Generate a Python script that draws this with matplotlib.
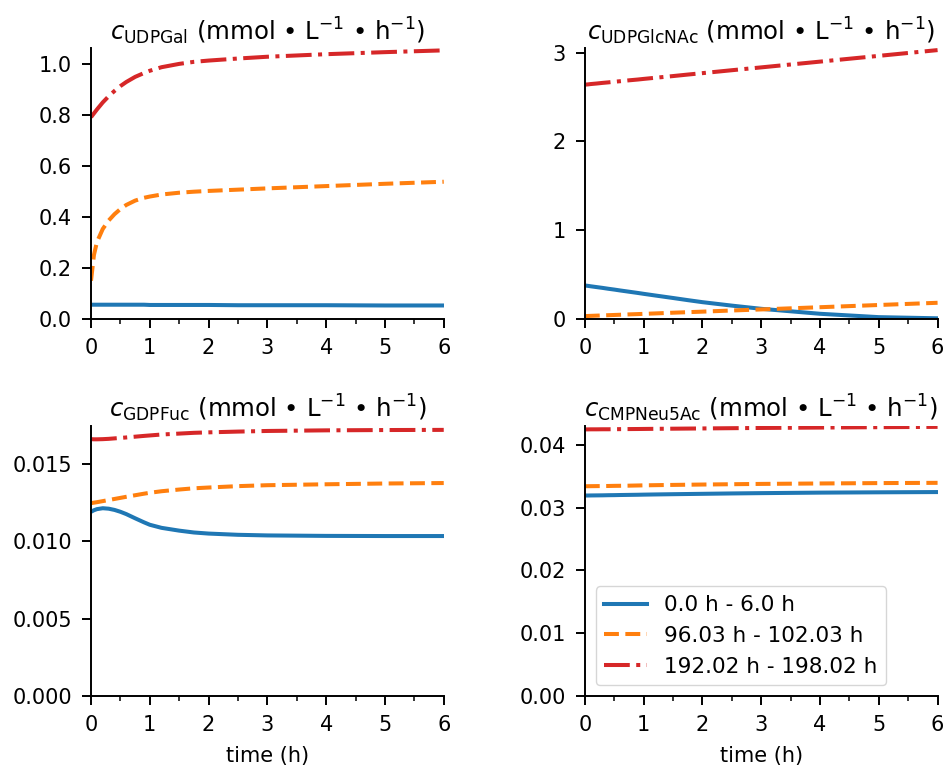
import matplotlib
matplotlib.use("Agg")
import matplotlib.pyplot as plt
from matplotlib.ticker import MultipleLocator

# time points (h) within each 6 h window
t = [0, 0.05, 0.1, 0.2, 0.3, 0.4, 0.5, 0.6, 0.75, 0.9, 1.0, 1.2, 1.5, 1.75, 2.0, 2.5, 3.0, 4.0, 5.0, 6.0]

labels = ["0.0 h - 6.0 h", "96.03 h - 102.03 h", "192.02 h - 198.02 h"]

udpgal_0 = [0.055, 0.055, 0.055, 0.055, 0.055, 0.055, 0.055, 0.055, 0.055, 0.055, 0.054, 0.054, 0.054,
            0.054, 0.054, 0.053, 0.053, 0.053, 0.052, 0.052]
udpgal_96 = [0.149, 0.25, 0.30, 0.352, 0.385, 0.41, 0.43, 0.446, 0.463, 0.474, 0.479, 0.487, 0.494,
             0.498, 0.501, 0.506, 0.511, 0.520, 0.529, 0.537]
udpgal_192 = [0.790, 0.805, 0.820, 0.848, 0.872, 0.893, 0.912, 0.928, 0.948, 0.963, 0.972, 0.986, 0.999,
              1.007, 1.012, 1.020, 1.027, 1.037, 1.045, 1.052]

udpglcnac_0 = [0.375, 0.371, 0.366, 0.357, 0.348, 0.338, 0.329, 0.319, 0.305, 0.291, 0.281, 0.262, 0.234,
               0.21, 0.187, 0.148, 0.112, 0.056, 0.018, 0.005]
udpglcnac_96 = [0.03, 0.031, 0.0325, 0.035, 0.0375, 0.04, 0.0425, 0.045, 0.049, 0.0525, 0.055, 0.06, 0.068,
                0.074, 0.08, 0.093, 0.105, 0.13, 0.155, 0.18]
udpglcnac_192 = [2.64, 2.643, 2.647, 2.653, 2.66, 2.666, 2.673, 2.679, 2.689, 2.698, 2.705, 2.718, 2.737,
                 2.754, 2.77, 2.803, 2.835, 2.9, 2.965, 3.03]

gdpfuc_0 = [0.01192, 0.01202, 0.01209, 0.01215, 0.01212, 0.01204, 0.01192, 0.01177, 0.0115, 0.01124, 0.01108,
            0.01088, 0.0107, 0.01058, 0.01051, 0.01043, 0.01039, 0.01036, 0.01035, 0.01035]
gdpfuc_96 = [0.01248, 0.01251, 0.01254, 0.01261, 0.01268, 0.01275, 0.01282, 0.01289, 0.01299, 0.01309, 0.01315,
             0.01325, 0.01336, 0.01344, 0.01349, 0.01358, 0.01364, 0.0137, 0.01375, 0.01378]
gdpfuc_192 = [0.01662, 0.01661, 0.01661, 0.01662, 0.01664, 0.01667, 0.0167, 0.01673, 0.01678, 0.01683, 0.01686,
              0.01692, 0.01698, 0.01703, 0.01706, 0.01711, 0.01715, 0.01719, 0.01721, 0.01722]

cmp_0 = [0.03195, 0.03195, 0.03196, 0.03197, 0.03198, 0.032, 0.03201, 0.03203, 0.03205, 0.03207, 0.03209,
         0.03212, 0.03216, 0.03219, 0.03222, 0.03228, 0.03233, 0.03241, 0.03246, 0.0325]
cmp_96 = [0.03343, 0.03343, 0.03344, 0.03345, 0.03346, 0.03347, 0.03349, 0.0335, 0.03352, 0.03355, 0.03357,
          0.0336, 0.03364, 0.03367, 0.0337, 0.03375, 0.0338, 0.03387, 0.03393, 0.03397]
cmp_192 = [0.04249, 0.04249, 0.0425, 0.0425, 0.04251, 0.04251, 0.04252, 0.04253, 0.04254, 0.04255, 0.04256,
           0.04258, 0.0426, 0.04262, 0.04264, 0.04268, 0.04272, 0.04278, 0.04284, 0.04289]

panels = [
    ("UDPGal", [udpgal_0, udpgal_96, udpgal_192], 1.06, [0, 0.2, 0.4, 0.6, 0.8, 1.0], "{:.1f}"),
    ("UDPGlcNAc", [udpglcnac_0, udpglcnac_96, udpglcnac_192], 3.05, [0, 1, 2, 3], "{:.0f}"),
    ("GDPFuc", [gdpfuc_0, gdpfuc_96, gdpfuc_192], 0.0175, [0, 0.005, 0.010, 0.015], "{:.3f}"),
    ("CMPNeu5Ac", [cmp_0, cmp_96, cmp_192], 0.0431, [0, 0.01, 0.02, 0.03, 0.04], "{:.2f}"),
]

colors = ["#1f77b4", "#ff7f0e", "#d62728"]
styles = ["-", "--", "-."]

fig, axes = plt.subplots(2, 2, figsize=(9.48, 7.67), dpi=100)
fig.subplots_adjust(left=0.096, right=0.989, bottom=0.0926, top=0.937, wspace=0.40, hspace=0.395)

for ax, (name, series, ytop, yticks, fmt) in zip(axes.flat, panels):
    for y, c, ls, lab in zip(series, colors, styles, labels):
        ax.plot(t, y, color=c, linestyle=ls, linewidth=2.9, label=lab)
    ax.set_xlim(0, 6)
    ax.set_ylim(0, ytop)
    ax.set_xticks(range(7))
    ax.xaxis.set_minor_locator(MultipleLocator(0.5))
    ax.set_yticks(yticks)
    ax.set_yticklabels([fmt.format(v) for v in yticks])
    ax.set_title("$c_{\\mathregular{" + name + "}}$ (mmol \u2022 L$^{-1}$ \u2022 h$^{-1}$)", fontsize=17.6)
    ax.spines["top"].set_visible(False)
    ax.spines["right"].set_visible(False)
    for s in ["left", "bottom"]:
        ax.spines[s].set_linewidth(1.4)
    ax.tick_params(which="major", length=6.8, width=1.4, labelsize=15, pad=7)
    ax.tick_params(which="minor", length=3.6, width=1.1)

for ax in axes[1]:
    ax.set_xlabel("time (h)", fontsize=15, labelpad=8)

axes[1, 1].legend(loc="lower left", fontsize=15.5)

plt.savefig("out.png", dpi=100)
